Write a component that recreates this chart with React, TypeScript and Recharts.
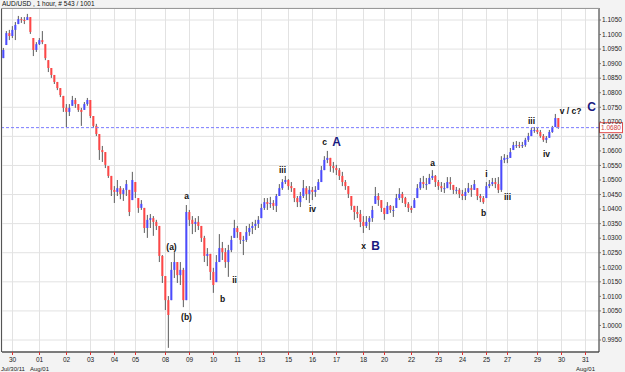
import React from 'react';
import { ComposedChart, Bar, XAxis, YAxis, CartesianGrid, ReferenceLine, ReferenceDot } from 'recharts';

const title = 'AUD/USD , 1 hour, # 543 / 1001';

// price bars, oldest first (open = previous close)
const firstOpen = 1.0919;
const highs = [
  1.0954, 1.1012, 1.1016, 1.1029, 1.1043, 1.1064, 1.106, 1.106, 1.1071, 1.106,
  1.0988, 1.0974, 1.0988, 1.1012, 1.0967, 1.0912, 1.0885, 1.0861, 1.0837, 1.0816,
  1.0789, 1.0761, 1.0761, 1.0789, 1.0782, 1.0761, 1.0748, 1.0768, 1.0782, 1.0775,
  1.072, 1.0693, 1.0658, 1.0617, 1.0596, 1.0548, 1.0514, 1.0479, 1.05, 1.0479,
  1.0472, 1.05, 1.0466, 1.0528, 1.0493, 1.0438, 1.0431, 1.0404, 1.038, 1.0383,
  1.0376, 1.0363, 1.0342, 1.0242, 1.017, 1.0101, 1.0218, 1.0252, 1.0218, 1.0218,
  1.0198, 1.0414, 1.0397, 1.0376, 1.0369, 1.0376, 1.0342, 1.0308, 1.0266, 1.0246,
  1.0198, 1.0242, 1.0314, 1.0287, 1.0266, 1.0277, 1.0308, 1.0363, 1.0342, 1.0321,
  1.0308, 1.0342, 1.0349, 1.0356, 1.0363, 1.0376, 1.0418, 1.0438, 1.0438, 1.0442,
  1.0431, 1.0452, 1.0486, 1.0503, 1.0514, 1.0503, 1.0493, 1.0472, 1.0445, 1.0459,
  1.05, 1.0479, 1.0479, 1.0476, 1.0479, 1.0503, 1.0548, 1.0582, 1.06, 1.0576,
  1.0562, 1.0552, 1.0541, 1.0528, 1.05, 1.0479, 1.0445, 1.0411, 1.0411, 1.0397,
  1.0376, 1.0376, 1.0376, 1.0411, 1.0476, 1.0455, 1.0431, 1.0404, 1.0424, 1.0414,
  1.0411, 1.0452, 1.0472, 1.0459, 1.0442, 1.0424, 1.0411, 1.0438, 1.0486, 1.0507,
  1.0514, 1.0507, 1.0521, 1.0534, 1.0517, 1.05, 1.0493, 1.049, 1.051, 1.051,
  1.0483, 1.0476, 1.0472, 1.0466, 1.0472, 1.049, 1.0483, 1.05, 1.0472, 1.0452,
  1.0445, 1.0493, 1.05, 1.0507, 1.0507, 1.051, 1.0582, 1.0589, 1.0586, 1.061,
  1.0631, 1.0634, 1.0631, 1.0631, 1.0645, 1.0662, 1.0679, 1.0682, 1.0679, 1.0672,
  1.0658, 1.0651, 1.0672, 1.0686, 1.0727, 1.0713,
];
const lows = [
  1.0919, 1.0964, 1.0981, 1.0988, 1.0981, 1.1036, 1.104, 1.1036, 1.105, 1.1002,
  1.0926, 1.094, 1.0964, 1.0967, 1.0912, 1.0871, 1.0851, 1.083, 1.0809, 1.0785,
  1.0734, 1.0682, 1.072, 1.0755, 1.0748, 1.0734, 1.0686, 1.0741, 1.0755, 1.0713,
  1.0679, 1.0651, 1.0569, 1.0562, 1.0541, 1.0507, 1.0445, 1.0421, 1.0445, 1.0434,
  1.0428, 1.0445, 1.0376, 1.0431, 1.0438, 1.0387, 1.0397, 1.0318, 1.0301, 1.0335,
  1.0308, 1.0328, 1.0218, 1.0146, 1.0053, 0.9923, 1.0087, 1.0163, 1.0146, 1.0139,
  1.0063, 1.0087, 1.0342, 1.0314, 1.0321, 1.0328, 1.0287, 1.0218, 1.0204, 1.0156,
  1.0112, 1.0149, 1.0218, 1.0225, 1.0198, 1.0167, 1.0252, 1.0301, 1.0301, 1.028,
  1.0242, 1.0287, 1.0308, 1.0314, 1.0328, 1.0335, 1.0369, 1.0397, 1.0397, 1.0404,
  1.0397, 1.039, 1.0445, 1.0466, 1.0486, 1.0466, 1.0459, 1.0424, 1.0407, 1.0407,
  1.0438, 1.0431, 1.0421, 1.0431, 1.0442, 1.0466, 1.0493, 1.0534, 1.0558, 1.0528,
  1.0525, 1.0517, 1.05, 1.0479, 1.0466, 1.0438, 1.0397, 1.0363, 1.0369, 1.0338,
  1.0318, 1.0335, 1.0328, 1.0356, 1.0418, 1.0411, 1.039, 1.0363, 1.0383, 1.0387,
  1.0373, 1.0404, 1.0431, 1.0421, 1.0407, 1.039, 1.0387, 1.0404, 1.0438, 1.0466,
  1.0472, 1.0466, 1.0486, 1.05, 1.0476, 1.0466, 1.0459, 1.0455, 1.0472, 1.0466,
  1.0452, 1.0452, 1.0438, 1.0431, 1.0431, 1.0455, 1.0442, 1.0466, 1.0431, 1.0424,
  1.0418, 1.0438, 1.0472, 1.0479, 1.0472, 1.0455, 1.0459, 1.0558, 1.0558, 1.0576,
  1.0603, 1.061, 1.061, 1.061, 1.0614, 1.0631, 1.0651, 1.0662, 1.0658, 1.0645,
  1.0631, 1.0627, 1.0645, 1.0662, 1.0682, 1.0676,
];
const closes = [
  1.0947, 1.1005, 1.0995, 1.1016, 1.1033, 1.1053, 1.105, 1.1047, 1.106, 1.1009,
  1.0947, 1.0967, 1.0981, 1.0974, 1.0919, 1.0885, 1.0861, 1.0837, 1.0816, 1.0792,
  1.0748, 1.0734, 1.0748, 1.0775, 1.0761, 1.0741, 1.0734, 1.0761, 1.0775, 1.072,
  1.0686, 1.0658, 1.0603, 1.0596, 1.0552, 1.0514, 1.0466, 1.0459, 1.0472, 1.0452,
  1.0466, 1.0486, 1.039, 1.05, 1.0459, 1.0404, 1.0418, 1.0335, 1.0363, 1.0369,
  1.0356, 1.0342, 1.0239, 1.017, 1.0087, 1.0036, 1.0191, 1.0218, 1.0173, 1.0191,
  1.0087, 1.039, 1.0363, 1.0349, 1.0356, 1.0342, 1.0301, 1.0239, 1.0246, 1.0184,
  1.0139, 1.0218, 1.0266, 1.0252, 1.0218, 1.0259, 1.0294, 1.0335, 1.0321, 1.0294,
  1.0294, 1.0321, 1.0335, 1.0342, 1.0349, 1.0363, 1.0404, 1.0424, 1.0418, 1.0421,
  1.0411, 1.0445, 1.0472, 1.0493, 1.05, 1.0479, 1.0472, 1.0438, 1.0424, 1.0445,
  1.0472, 1.0452, 1.0466, 1.0459, 1.0466, 1.0493, 1.0534, 1.0569, 1.0576, 1.0548,
  1.0541, 1.0534, 1.0514, 1.0493, 1.0479, 1.0452, 1.0411, 1.039, 1.0383, 1.0356,
  1.0342, 1.0356, 1.0369, 1.0397, 1.0445, 1.0431, 1.0404, 1.0383, 1.0411, 1.0397,
  1.0397, 1.0438, 1.0452, 1.0438, 1.0418, 1.0404, 1.0397, 1.0431, 1.0472, 1.0493,
  1.0486, 1.0486, 1.0507, 1.0514, 1.0493, 1.0479, 1.0472, 1.0472, 1.0493, 1.0486,
  1.0466, 1.0466, 1.0452, 1.0445, 1.0459, 1.0472, 1.0466, 1.0486, 1.0445, 1.0438,
  1.0424, 1.0479, 1.0486, 1.0493, 1.0486, 1.0466, 1.0569, 1.0576, 1.0576, 1.0596,
  1.062, 1.062, 1.0617, 1.062, 1.0638, 1.0651, 1.0672, 1.0672, 1.0665, 1.0651,
  1.0638, 1.0645, 1.0665, 1.0679, 1.0713, 1.068,
];
const totalSlots = 199; // bars plus empty space on the right
const lastPrice = 1.068;

const dayTicks = [3, 12, 21, 29, 37, 44, 54, 62, 70, 78, 86, 95, 103, 111, 120, 127, 136, 145, 153, 161, 168, 178, 186, 194];
const dayLabels = ['30', '01', '02', '03', '04', '05', '08', '09', '10', '11', '13', '15', '16', '17', '18', '20', '22', '23', '24', '25', '27', '29', '30', '31'];
const monthLabels: Record<number, string> = { 3: 'Jul/30/11', 12: 'Aug/01', 194: 'Aug/01' };

const priceTicks = [
  0.995, 1.0, 1.005, 1.01, 1.015, 1.02, 1.025, 1.03, 1.035, 1.04, 1.045, 1.05,
  1.055, 1.06, 1.065, 1.07, 1.075, 1.08, 1.085, 1.09, 1.095, 1.1, 1.105,
];

// wave count labels
const waveText = ['(a)', '(b)', 'a', 'b', 'ii', 'iii', 'iv', 'c', 'x', 'a', 'i', 'b', 'iii', 'iii', 'iv', 'v / c?'];
const waveBar = [56, 61, 61, 73, 77, 93, 103, 107, 120, 143, 161, 160, 168, 176, 181, 189];
const wavePrice = [1.027, 1.0029, 1.0445, 1.0091, 1.0156, 1.0534, 1.04, 1.0631, 1.0273, 1.0558, 1.0521, 1.0387, 1.0442, 1.0703, 1.0589, 1.0737];

const degreeText = ['A', 'B', 'C'];
const degreeBar = [111, 124, 196];
const degreePrice = [1.0631, 1.0273, 1.0751];

const data = Array.from({ length: totalSlots }, (_, i) =>
  i < closes.length
    ? { i, range: [lows[i], highs[i]], o: i === 0 ? firstOpen : closes[i - 1], h: highs[i], l: lows[i], c: closes[i] }
    : { i, range: null }
);

const FONT = '"Liberation Sans", Arial, sans-serif';

const OhlcShape = (props: any) => {
  const { x, y, width, height, payload } = props;
  if (!payload || payload.range == null) return null;
  const { o, h, l, c } = payload;
  const span = h - l || 1e-9;
  const clamp = (v: number) => Math.min(h, Math.max(l, v));
  const yAt = (v: number) => y + ((h - clamp(v)) / span) * height;
  const cx = x + width / 2;
  const yo = yAt(o);
  const yc = yAt(c);
  const top = Math.min(yo, yc);
  const bot = Math.max(yo, yc);
  return (
    <g>
      <line x1={cx} x2={cx} y1={y} y2={y + height} stroke="#5c5c5c" strokeWidth={1} />
      <rect x={cx - 1} y={top} width={2} height={Math.max(bot - top, 1)} fill={c >= o ? '#4b4bff' : '#ff4646'} />
    </g>
  );
};

const DayTick = (props: any) => {
  const { x, y, payload } = props;
  const idx = dayTicks.indexOf(payload.value);
  const month = monthLabels[payload.value];
  const first = idx === 0;
  return (
    <g>
      <text x={x} y={y + 7} textAnchor="middle" fontSize={6.5} fontFamily={FONT} fill="#222">
        {dayLabels[idx]}
      </text>
      {month && (
        <text x={first ? 1 : x} y={y + 16} textAnchor={first ? 'start' : 'middle'} fontSize={6} fontFamily={FONT} fill="#222">
          {month}
        </text>
      )}
    </g>
  );
};

const PriceTag = (props: any) => {
  const vb = props.viewBox || {};
  const x = vb.x + vb.width;
  return (
    <g>
      <rect x={x + 0.5} y={vb.y - 5} width={23} height={10} fill="#fff" stroke="#e05050" strokeWidth={1} />
      <text x={x + 12} y={vb.y + 2.5} textAnchor="middle" fontSize={6.5} fontFamily={FONT} fill="#d04040">
        {lastPrice.toFixed(4)}
      </text>
    </g>
  );
};

const textShape = (text: string, size: number, color: string) => (p: any) => (
  <text x={p.cx} y={p.cy} textAnchor="middle" dominantBaseline="central" fontSize={size} fontWeight="bold" fontFamily={FONT} fill={color}>
    {text}
  </text>
);

export default function App() {
  return (
    <div style={{ position: 'absolute', left: 0, top: 0, width: 625, height: 372, background: '#f3f3f3', overflow: 'hidden' }}>
      <div style={{ position: 'absolute', left: 2, top: 0, fontSize: 6.5, lineHeight: '8px', fontFamily: FONT, color: '#111' }}>{title}</div>
      <ComposedChart
        width={625}
        height={372}
        data={data}
        margin={{ top: 8, right: 0, left: 2, bottom: 0 }}
        barCategoryGap={0}
        barGap={0}
      >
        <CartesianGrid stroke="#e2e2e2" fill="#ffffff" />
        <XAxis
          dataKey="i"
          type="category"
          ticks={dayTicks}
          interval={0}
          height={20}
          tick={<DayTick />}
          tickSize={3}
          tickMargin={0}
          tickLine={{ stroke: '#e03030' }}
          axisLine={{ stroke: '#555', strokeWidth: 1.5 }}
        />
        <YAxis
          orientation="right"
          type="number"
          domain={[0.990875, 1.109125]}
          ticks={priceTicks}
          allowDataOverflow
          width={26}
          tickSize={2}
          tickMargin={1}
          tickFormatter={(v: number) => v.toFixed(4)}
          tick={{ fontSize: 6.5, fontFamily: FONT, fill: '#222' }}
          tickLine={{ stroke: '#777' }}
          axisLine={{ stroke: '#333' }}
        />
        <Bar dataKey="range" shape={OhlcShape} isAnimationActive={false} barSize={3} />
        <ReferenceLine y={lastPrice} stroke="#7b7bff" strokeDasharray="3 2" label={<PriceTag />} />
        {waveText.map((t, k) => (
          <ReferenceDot key={'w' + k} x={waveBar[k]} y={wavePrice[k]} r={0} shape={textShape(t, 8.5, '#111')} />
        ))}
        {degreeText.map((t, k) => (
          <ReferenceDot key={'d' + k} x={degreeBar[k]} y={degreePrice[k]} r={0} shape={textShape(t, 12, '#1a1a80')} />
        ))}
      </ComposedChart>
      <div style={{ position: 'absolute', left: 1, top: 8, width: 1, height: 344, background: '#555' }} />
      <div style={{ position: 'absolute', left: 1, top: 8, width: 598, height: 1, background: '#999' }} />
    </div>
  );
}
